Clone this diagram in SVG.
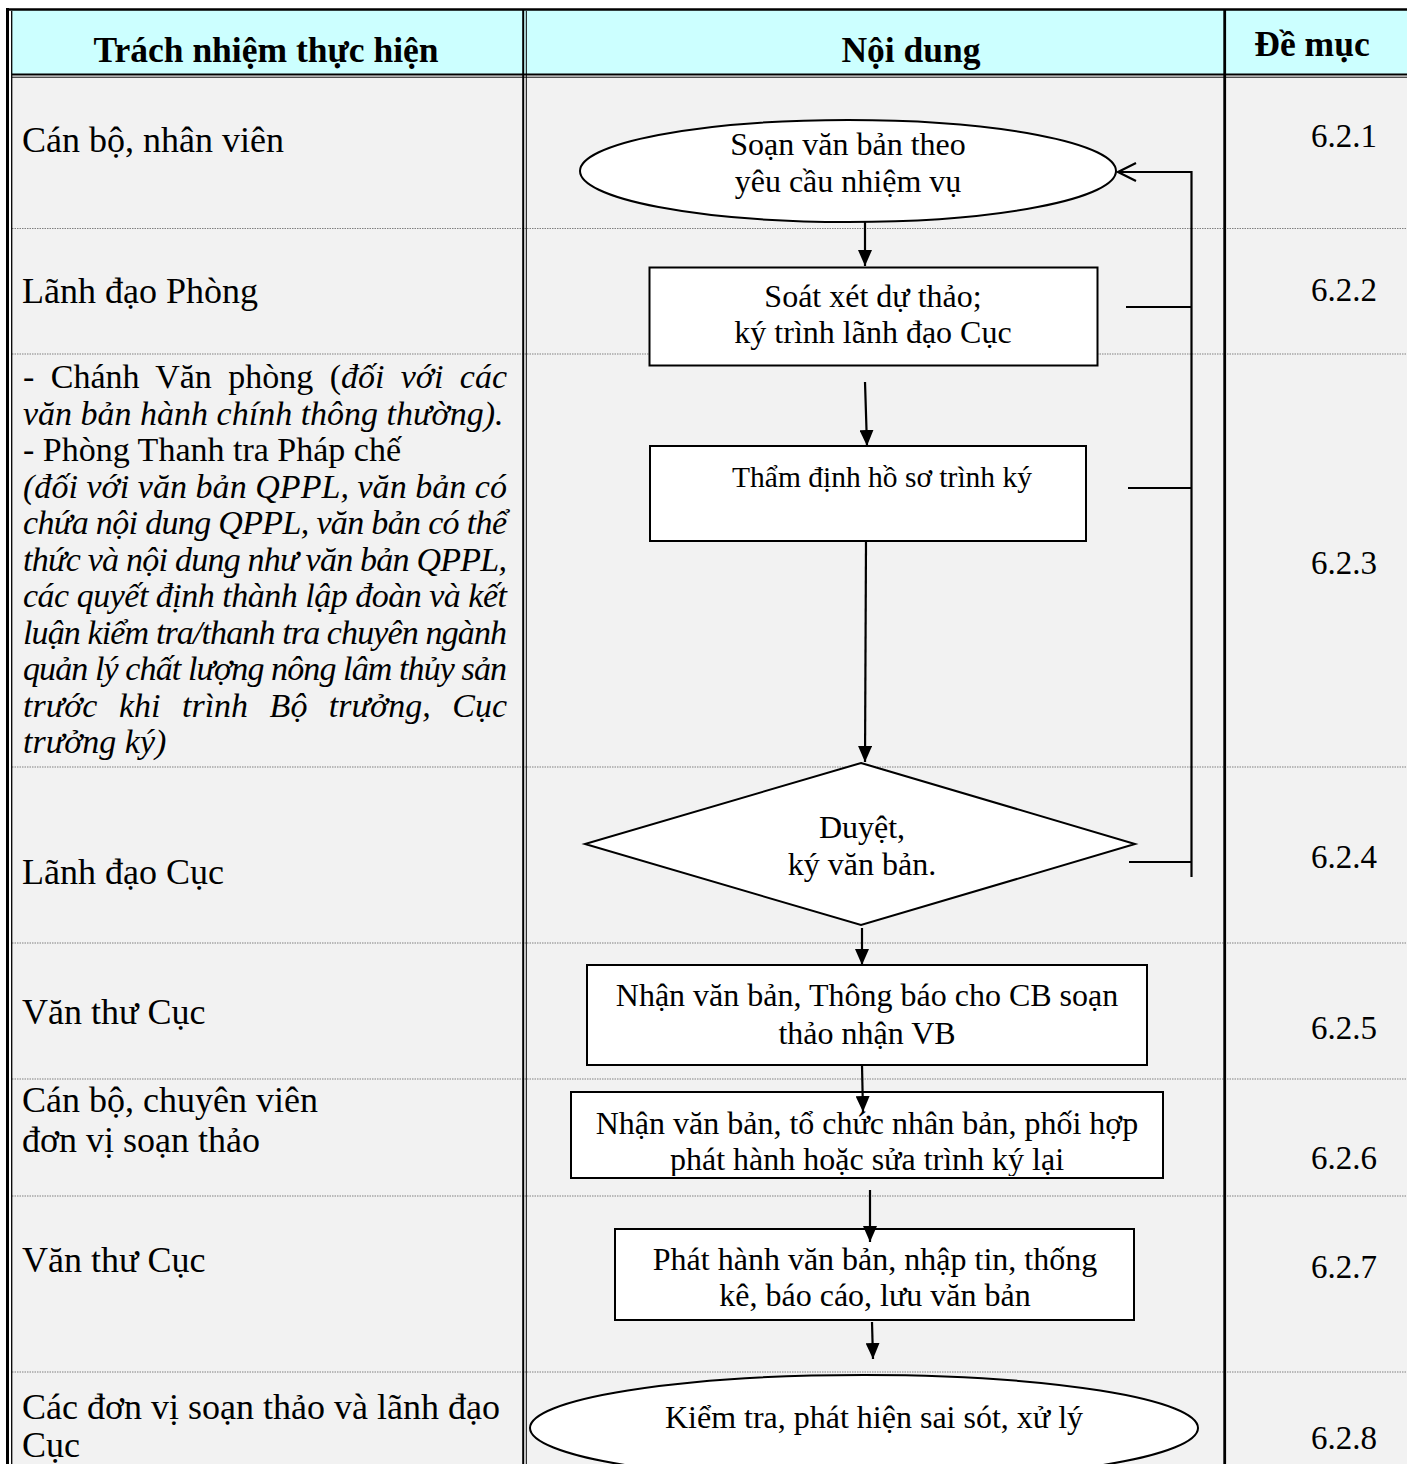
<svg xmlns="http://www.w3.org/2000/svg" width="1407" height="1464" viewBox="0 0 1407 1464">
<style>
.hdr{font-family:"Liberation Serif","Times New Roman",serif;font-weight:bold;font-size:35.5px;fill:#000}
.lt{font-family:"Liberation Serif","Times New Roman",serif;font-size:36px;fill:#000}
.bk{font-family:"Liberation Serif","Times New Roman",serif;font-size:34px;fill:#000}
.it{font-style:italic}
.ft{font-family:"Liberation Serif","Times New Roman",serif;font-size:32px;fill:#000;text-anchor:middle}
.num{font-family:"Liberation Serif","Times New Roman",serif;font-size:33px;fill:#000;text-anchor:end}
.shape{fill:#fff;stroke:#000;stroke-width:2}
.sep{stroke:#808080;stroke-width:1;stroke-dasharray:1.5 1}
.conn{stroke:#000;stroke-width:2.2;fill:none}
</style>
<defs>
<marker id="ah" markerUnits="userSpaceOnUse" markerWidth="16" markerHeight="14" refX="16" refY="7" orient="auto">
<path d="M0,0 L16,7 L0,14 Z" fill="#000"/>
</marker>
<marker id="open" markerUnits="userSpaceOnUse" markerWidth="22" markerHeight="22" refX="20" refY="11" orient="auto">
<path d="M2,2 L20,11 L2,20" stroke="#000" stroke-width="2.2" fill="none"/>
</marker>
<clipPath id="clip11"><rect x="571" y="1093" width="592" height="83"/></clipPath>
</defs>

<!-- backgrounds -->
<rect x="0" y="0" width="1407" height="1464" fill="#fff"/>
<rect x="11" y="10" width="1396" height="64" fill="#CCFFFF"/>
<rect x="12" y="78" width="1395" height="1386" fill="#F2F2F2"/>

<!-- row separators -->
<g id="separators">
<line class="sep" x1="12" y1="228.5" x2="1407" y2="228.5"/>
<line class="sep" x1="12" y1="354" x2="1407" y2="354"/>
<line class="sep" x1="12" y1="767" x2="1407" y2="767"/>
<line class="sep" x1="12" y1="943" x2="1407" y2="943"/>
<line class="sep" x1="12" y1="1079" x2="1407" y2="1079"/>
<line class="sep" x1="12" y1="1196" x2="1407" y2="1196"/>
<line class="sep" x1="12" y1="1372" x2="1407" y2="1372"/>
</g>

<!-- table borders -->
<g id="borders" stroke="#000" fill="none">
<line x1="7.5" y1="8" x2="7.5" y2="1464" stroke-width="3"/>
<line x1="11.7" y1="11" x2="11.7" y2="1464" stroke-width="1.3"/>
<line x1="6" y1="9.5" x2="1407" y2="9.5" stroke-width="2.6"/>
<line x1="12" y1="74.5" x2="1407" y2="74.5" stroke-width="2"/>
<line x1="12" y1="77.2" x2="1407" y2="77.2" stroke-width="1"/>
<line x1="523.2" y1="9" x2="523.2" y2="1464" stroke-width="2"/>
<line x1="526.3" y1="11" x2="526.3" y2="1464" stroke-width="1"/>
<line x1="1224.7" y1="9" x2="1224.7" y2="1464" stroke-width="2.8"/>
</g>

<!-- header -->
<g id="header">
<text class="hdr" x="266" y="62" text-anchor="middle">Trách nhiệm thực hiện</text>
<text class="hdr" x="911" y="62" text-anchor="middle">Nội dung</text>
<text class="hdr" x="1312" y="56" text-anchor="middle">Đề mục</text>
</g>

<!-- responsibility column -->
<g id="responsibility">
<text class="lt" x="22" y="152">Cán bộ, nhân viên</text>
<text class="lt" x="22" y="303">Lãnh đạo Phòng</text>
<text class="bk" x="23" y="388" word-spacing="8" textLength="484" lengthAdjust="spacing">- Chánh Văn phòng (<tspan class="it">đối với các</tspan></text>
<text class="bk it" x="23" y="424.5">văn bản hành chính thông thường).</text>
<text class="bk" x="23" y="461">- Phòng Thanh tra Pháp chế</text>
<text class="bk it" x="23" y="497.5" textLength="484" lengthAdjust="spacing">(đối với văn bản QPPL, văn bản có</text>
<text class="bk it" x="23" y="534" textLength="484" lengthAdjust="spacing">chứa nội dung QPPL, văn bản có thể</text>
<text class="bk it" x="23" y="570.5" textLength="484" lengthAdjust="spacing">thức và nội dung như văn bản QPPL,</text>
<text class="bk it" x="23" y="607" textLength="484" lengthAdjust="spacing">các quyết định thành lập đoàn và kết</text>
<text class="bk it" x="23" y="643.5" textLength="484" lengthAdjust="spacing">luận kiểm tra/thanh tra chuyên ngành</text>
<text class="bk it" x="23" y="680" textLength="484" lengthAdjust="spacing">quản lý chất lượng nông lâm thủy sản</text>
<text class="bk it" x="23" y="716.5" word-spacing="13" textLength="484" lengthAdjust="spacing">trước khi trình Bộ trưởng, Cục</text>
<text class="bk it" x="23" y="753">trưởng ký)</text>
<text class="lt" x="22" y="884">Lãnh đạo Cục</text>
<text class="lt" x="22" y="1024">Văn thư Cục</text>
<text class="lt" x="22" y="1112">Cán bộ, chuyên viên</text>
<text class="lt" x="22" y="1152">đơn vị soạn thảo</text>
<text class="lt" x="22" y="1272">Văn thư Cục</text>
<text class="lt" x="22" y="1419">Các đơn vị soạn thảo và lãnh đạo</text>
<text class="lt" x="22" y="1457">Cục</text>
</g>

<!-- section numbers -->
<g id="sections">
<text class="num" x="1377" y="147">6.2.1</text>
<text class="num" x="1377" y="301">6.2.2</text>
<text class="num" x="1377" y="574">6.2.3</text>
<text class="num" x="1377" y="868">6.2.4</text>
<text class="num" x="1377" y="1039">6.2.5</text>
<text class="num" x="1377" y="1169">6.2.6</text>
<text class="num" x="1377" y="1278">6.2.7</text>
<text class="num" x="1377" y="1449">6.2.8</text>
</g>

<!-- nodes -->
<g id="n1">
<ellipse class="shape" cx="848" cy="171" rx="268" ry="51"/>
<text class="ft" x="848" y="155">Soạn văn bản theo</text>
<text class="ft" x="848" y="192">yêu cầu nhiệm vụ</text>
</g>
<g id="n2">
<rect class="shape" x="649.5" y="267.5" width="448" height="98" stroke-width="1.8"/>
<text class="ft" x="873" y="307">Soát xét dự thảo;</text>
<text class="ft" x="873" y="343">ký trình lãnh đạo Cục</text>
</g>
<g id="n3">
<rect class="shape" x="650" y="446" width="436" height="95" stroke-width="1.8"/>
<text class="ft" x="882" y="487" style="font-size:29.5px">Thẩm định hồ sơ trình ký</text>
</g>
<g id="n4">
<polygon class="shape" points="861,763 1135,844 861,925 585,844"/>
<text class="ft" x="862" y="838">Duyệt,</text>
<text class="ft" x="862" y="875">ký văn bản.</text>
</g>
<g id="n5">
<rect class="shape" x="587" y="965" width="560" height="100" stroke-width="1.8"/>
<text class="ft" x="867" y="1006">Nhận văn bản, Thông báo cho CB soạn</text>
<text class="ft" x="867" y="1044">thảo nhận VB</text>
</g>
<g id="n6">
<rect class="shape" x="571" y="1092" width="592" height="86" stroke-width="1.8"/>
<g clip-path="url(#clip11)">
<text class="ft" x="867" y="1134">Nhận văn bản, tổ chức nhân bản, phối hợp</text>
<text class="ft" x="867" y="1170">phát hành hoặc sửa trình ký lại</text>
</g>
</g>
<g id="n7">
<rect class="shape" x="615" y="1229" width="519" height="91" stroke-width="1.8"/>
<text class="ft" x="875" y="1270">Phát hành văn bản, nhập tin, thống</text>
<text class="ft" x="875" y="1306">kê, báo cáo, lưu văn bản</text>
</g>
<g id="n8">
<ellipse class="shape" cx="864" cy="1428" rx="334" ry="53"/>
<text class="ft" x="874" y="1428">Kiểm tra, phát hiện sai sót, xử lý</text>
</g>

<!-- connectors -->
<g id="connectors">
<line class="conn" x1="865" y1="222" x2="865" y2="266" marker-end="url(#ah)"/>
<line class="conn" x1="865" y1="382" x2="867" y2="446" marker-end="url(#ah)"/>
<line class="conn" x1="866" y1="541" x2="865" y2="762" marker-end="url(#ah)"/>
<line class="conn" x1="862" y1="928" x2="862" y2="965" marker-end="url(#ah)"/>
<line class="conn" x1="862" y1="1065" x2="863" y2="1112" marker-end="url(#ah)"/>
<line class="conn" x1="870" y1="1190" x2="870" y2="1242" marker-end="url(#ah)"/>
<line class="conn" x1="872" y1="1322" x2="873" y2="1359" marker-end="url(#ah)"/>
<line class="conn" x1="1191.5" y1="171" x2="1191.5" y2="877"/>
<line class="conn" x1="1191.5" y1="172" x2="1118" y2="172" marker-end="url(#open)"/>
<line class="conn" x1="1126" y1="307" x2="1191" y2="307"/>
<line class="conn" x1="1128" y1="488" x2="1191" y2="488"/>
<line class="conn" x1="1129" y1="862" x2="1191" y2="862"/>
</g>
</svg>
